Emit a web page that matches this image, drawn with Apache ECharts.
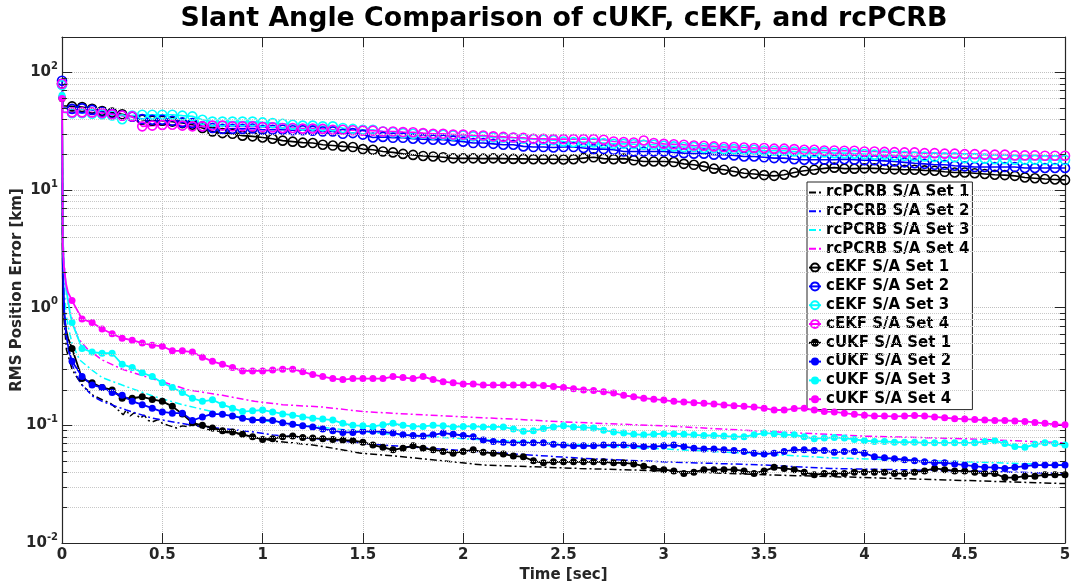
<!DOCTYPE html>
<html>
<head>
<meta charset="utf-8">
<script src="https://cdn.jsdelivr.net/npm/echarts@6/dist/echarts.min.js"></script>
<style>
  html, body { margin: 0; padding: 0; background: #ffffff; }
  #chart { width: 1073px; height: 586px; }
</style>
</head>
<body>
<div id="chart"></div>
<script>
// ---- sample grid of the filter runs (one marker per sample) ----
const sampleTimes = [
  0.05, 0.1, 0.15, 0.2, 0.25, 0.3, 0.35, 0.4, 0.45, 0.5,
  0.55, 0.6, 0.65, 0.7, 0.75, 0.8, 0.85, 0.9, 0.95, 1,
  1.05, 1.1, 1.15, 1.2, 1.25, 1.3, 1.35, 1.4, 1.45, 1.5,
  1.55, 1.6, 1.65, 1.7, 1.75, 1.8, 1.85, 1.9, 1.95, 2,
  2.05, 2.1, 2.15, 2.2, 2.25, 2.3, 2.35, 2.4, 2.45, 2.5,
  2.55, 2.6, 2.65, 2.7, 2.75, 2.8, 2.85, 2.9, 2.95, 3,
  3.05, 3.1, 3.15, 3.2, 3.25, 3.3, 3.35, 3.4, 3.45, 3.5,
  3.55, 3.6, 3.65, 3.7, 3.75, 3.8, 3.85, 3.9, 3.95, 4,
  4.05, 4.1, 4.15, 4.2, 4.25, 4.3, 4.35, 4.4, 4.45, 4.5,
  4.55, 4.6, 4.65, 4.7, 4.75, 4.8, 4.85, 4.9, 4.95, 5
];

// ---- cEKF: initial transient, then RMS error on the sample grid [km] ----
const ekfStartTimes = [0, 0.004];
const ekfStart1 = [80, 52];
const ekfStart2 = [85, 50];
const ekfStart3 = [78, 46];
const ekfStart4 = [80, 46];

const ekfSet1 = [
  51.4, 50.7, 49.0, 47.0, 45.5, 44.0, 42.3, 39.6, 38.8, 38.8,
  38.2, 37.1, 35.9, 33.7, 31.5, 30.5, 30.1, 29.0, 28.6, 28.0,
  27.3, 26.3, 25.8, 25.3, 25.1, 24.3, 23.9, 23.5, 23.2, 22.3,
  22.0, 21.3, 20.9, 20.3, 19.9, 19.5, 19.3, 19.0, 18.6, 18.6,
  18.6, 18.5, 18.6, 18.5, 18.4, 18.4, 18.3, 18.3, 18.3, 18.2,
  18.3, 18.7, 19.0, 18.5, 18.3, 18.5, 17.9, 17.5, 17.5, 17.5,
  17.3, 16.7, 16.4, 15.9, 15.2, 14.9, 14.4, 13.9, 13.7, 13.4,
  13.2, 13.5, 14.1, 14.6, 14.9, 15.3, 15.5, 15.2, 15.2, 15.3,
  15.3, 15.1, 15.0, 14.9, 14.9, 14.7, 14.6, 14.3, 14.1, 14.1,
  13.9, 13.7, 13.5, 13.4, 13.2, 12.8, 12.6, 12.4, 12.3, 12.2
];
const ekfSet2 = [
  49.0, 49.5, 48.0, 46.0, 44.5, 43.0, 42.0, 40.1, 39.6, 39.6,
  38.8, 37.6, 37.1, 34.8, 33.7, 33.1, 33.1, 33.1, 33.4, 32.6,
  32.6, 32.6, 32.2, 32.2, 32.0, 31.5, 31.5, 30.1, 30.5, 29.6,
  28.0, 28.3, 27.8, 27.8, 27.3, 27.1, 26.8, 26.8, 26.3, 25.8,
  25.1, 25.1, 24.7, 24.3, 24.3, 23.5, 23.2, 23.2, 23.0, 23.2,
  23.2, 22.8, 22.3, 22.3, 22.0, 21.3, 21.3, 21.3, 21.3, 21.3,
  20.9, 20.6, 20.4, 20.4, 20.0, 20.0, 19.7, 19.3, 19.3, 19.0,
  18.7, 18.7, 18.3, 18.1, 18.1, 18.1, 18.1, 18.3, 18.1, 17.9,
  17.9, 17.7, 17.5, 17.2, 16.9, 16.7, 16.4, 16.4, 16.1, 15.9,
  15.7, 15.7, 15.7, 15.7, 15.7, 15.4, 15.4, 15.4, 15.4, 15.4
];
const ekfSet3 = [
  45.0, 45.0, 44.5, 44.0, 43.0, 40.0, 43.0, 43.7, 43.7, 43.7,
  43.7, 42.9, 42.3, 39.6, 38.2, 38.2, 38.2, 38.2, 38.2, 37.6,
  37.1, 36.6, 35.9, 35.3, 35.3, 34.8, 34.8, 33.7, 33.1, 32.6,
  32.6, 31.5, 31.0, 30.5, 30.1, 30.1, 29.6, 29.6, 29.1, 29.1,
  28.6, 28.6, 28.0, 27.8, 27.8, 27.3, 27.1, 26.8, 26.5, 25.9,
  25.6, 25.6, 25.4, 25.1, 24.7, 24.7, 24.5, 24.3, 24.3, 23.8,
  23.5, 23.2, 23.2, 22.8, 22.8, 22.3, 22.3, 22.0, 22.0, 21.7,
  21.6, 21.6, 21.3, 21.0, 20.9, 20.9, 20.6, 20.6, 20.4, 20.2,
  20.0, 20.0, 19.7, 19.6, 19.3, 19.3, 19.1, 19.0, 19.0, 18.7,
  18.7, 18.5, 18.3, 18.3, 18.1, 18.1, 18.1, 18.0, 18.0, 18.0
];
const ekfSet4 = [
  45.7, 45.7, 45.7, 45.1, 44.0, 42.9, 42.3, 34.8, 35.3, 35.8,
  35.9, 35.3, 34.8, 34.8, 35.3, 35.3, 34.8, 34.8, 34.8, 34.3,
  34.1, 33.7, 33.7, 33.3, 33.3, 33.1, 32.6, 32.6, 32.2, 32.0,
  32.0, 31.5, 31.5, 31.1, 31.0, 30.5, 30.1, 30.1, 29.6, 29.6,
  29.2, 29.1, 28.6, 28.3, 28.0, 27.8, 27.3, 27.3, 27.1, 27.1,
  27.1, 27.1, 27.1, 26.8, 25.9, 25.6, 25.4, 26.4, 25.1, 24.7,
  24.5, 24.3, 23.9, 23.8, 23.5, 23.2, 23.2, 23.0, 22.8, 22.8,
  22.5, 22.5, 22.3, 22.0, 22.0, 21.7, 21.7, 21.6, 21.6, 21.3,
  21.3, 21.1, 21.0, 20.9, 20.9, 20.6, 20.6, 20.4, 20.4, 20.2,
  20.2, 20.0, 20.0, 20.0, 19.7, 19.7, 19.7, 19.6, 19.6, 19.6
];

// ---- cUKF: initial transient, then RMS error on the sample grid [km] ----
const ukfStartTimes = [0, 0.004, 0.01, 0.02, 0.03, 0.04];
const ukfStart1 = [60, 1.8, 0.9, 0.65, 0.55, 0.5];
const ukfStart2 = [62, 2.5, 1.0, 0.6, 0.48, 0.4];
const ukfStart3 = [64, 4.0, 2.2, 1.5, 1.15, 0.9];
const ukfStart4 = [60, 3.5, 2.2, 1.6, 1.35, 1.25];

const ukfSet1 = [
  0.45, 0.25, 0.23, 0.21, 0.20, 0.17, 0.17, 0.175, 0.166, 0.16,
  0.145, 0.125, 0.105, 0.10, 0.095, 0.09, 0.088, 0.084, 0.08, 0.076,
  0.077, 0.08, 0.081, 0.079, 0.078, 0.077, 0.076, 0.075, 0.074, 0.072,
  0.068, 0.065, 0.062, 0.064, 0.067, 0.064, 0.062, 0.06, 0.058, 0.06,
  0.062, 0.059, 0.058, 0.057, 0.055, 0.054, 0.05, 0.048, 0.049, 0.049,
  0.049, 0.049, 0.049, 0.049, 0.048, 0.048, 0.047, 0.045, 0.043, 0.042,
  0.041, 0.039, 0.04, 0.042, 0.042, 0.042, 0.042, 0.041, 0.039, 0.041,
  0.044, 0.043, 0.042, 0.04, 0.038, 0.039, 0.039, 0.039, 0.04, 0.04,
  0.04, 0.04, 0.039, 0.039, 0.04, 0.041, 0.043, 0.042, 0.041, 0.041,
  0.04, 0.039, 0.039, 0.036, 0.036, 0.037, 0.037, 0.038, 0.038, 0.038
];
const ukfSet2 = [
  0.35, 0.26, 0.22, 0.21, 0.19, 0.18, 0.16, 0.15, 0.14, 0.13,
  0.127, 0.127, 0.11, 0.118, 0.125, 0.124, 0.12, 0.115, 0.111, 0.111,
  0.11, 0.105, 0.102, 0.099, 0.097, 0.093, 0.09, 0.087, 0.087, 0.089,
  0.089, 0.088, 0.086, 0.083, 0.082, 0.081, 0.083, 0.086, 0.084, 0.082,
  0.08, 0.075, 0.073, 0.072, 0.071, 0.071, 0.071, 0.071, 0.069, 0.068,
  0.067, 0.067, 0.067, 0.068, 0.068, 0.068, 0.067, 0.066, 0.066, 0.067,
  0.068, 0.066, 0.064, 0.063, 0.063, 0.062, 0.061, 0.06, 0.058, 0.057,
  0.058, 0.06, 0.062, 0.062, 0.061, 0.061, 0.059, 0.06, 0.06, 0.058,
  0.054, 0.053, 0.052, 0.051, 0.05, 0.049, 0.048, 0.048, 0.047, 0.046,
  0.045, 0.044, 0.044, 0.043, 0.044, 0.045, 0.046, 0.046, 0.046, 0.046
];
const ukfSet3 = [
  0.75, 0.45, 0.42, 0.41, 0.41, 0.33, 0.31, 0.28, 0.26, 0.23,
  0.21, 0.19, 0.17, 0.16, 0.165, 0.15, 0.14, 0.131, 0.133, 0.135,
  0.13, 0.125, 0.122, 0.118, 0.115, 0.113, 0.111, 0.104, 0.1, 0.099,
  0.098, 0.101, 0.104, 0.1, 0.098, 0.098, 0.1, 0.099, 0.097, 0.098,
  0.098, 0.097, 0.097, 0.097, 0.093, 0.089, 0.09, 0.094, 0.097, 0.099,
  0.097, 0.096, 0.095, 0.091, 0.088, 0.086, 0.084, 0.083, 0.084, 0.085,
  0.085, 0.084, 0.083, 0.082, 0.082, 0.081, 0.08, 0.08, 0.083, 0.086,
  0.085, 0.083, 0.083, 0.08, 0.077, 0.078, 0.079, 0.078, 0.076, 0.074,
  0.073, 0.073, 0.072, 0.072, 0.072, 0.071, 0.071, 0.071, 0.071, 0.071,
  0.071, 0.073, 0.074, 0.07, 0.066, 0.065, 0.069, 0.071, 0.07, 0.068
];
const ukfSet4 = [
  1.15, 0.8, 0.75, 0.66, 0.6, 0.55, 0.53, 0.5, 0.48, 0.47,
  0.43, 0.43, 0.42, 0.38, 0.35, 0.33, 0.31, 0.29, 0.29, 0.29,
  0.295, 0.30, 0.30, 0.285, 0.27, 0.26, 0.25, 0.245, 0.25, 0.25,
  0.25, 0.25, 0.26, 0.255, 0.25, 0.26, 0.245, 0.235, 0.23, 0.225,
  0.225, 0.22, 0.22, 0.22, 0.22, 0.22, 0.22, 0.218, 0.214, 0.21,
  0.205, 0.2, 0.198, 0.193, 0.188, 0.18, 0.175, 0.17, 0.167, 0.164,
  0.16, 0.158, 0.156, 0.154, 0.152, 0.149, 0.147, 0.145, 0.143, 0.14,
  0.135, 0.135, 0.139, 0.14, 0.135, 0.131, 0.13, 0.127, 0.124, 0.122,
  0.12, 0.12, 0.119, 0.12, 0.121, 0.12, 0.118, 0.116, 0.114, 0.113,
  0.112, 0.111, 0.11, 0.11, 0.109, 0.108, 0.106, 0.104, 0.102, 0.101
];

// ---- rcPCRB bounds [km] ----
const crbTimes1 = [
  0, 0.004, 0.01, 0.022, 0.05, 0.072, 0.1, 0.155, 0.2, 0.24,
  0.27, 0.29, 0.305, 0.32, 0.34, 0.36, 0.39, 0.41, 0.43, 0.45,
  0.48, 0.5, 0.53, 0.57, 0.6, 0.63, 0.655, 0.68, 0.71, 0.74,
  0.78, 0.82, 0.86, 0.9, 0.95, 1.0, 1.07, 1.15, 1.25, 1.35,
  1.49, 1.6, 1.8, 2.1, 2.58, 3.0, 3.5, 3.83, 4.5, 5.0
];
const crbSet1 = [
  50, 1.5, 0.8, 0.44, 0.3, 0.26, 0.22, 0.18, 0.165, 0.155,
  0.14, 0.13, 0.123, 0.135, 0.12, 0.128, 0.115, 0.122, 0.11, 0.107,
  0.112, 0.104, 0.1, 0.095, 0.099, 0.097, 0.104, 0.098, 0.094, 0.091,
  0.089, 0.087, 0.086, 0.083, 0.08, 0.077, 0.073, 0.071, 0.068, 0.064,
  0.058, 0.056, 0.052, 0.046, 0.043, 0.041, 0.038, 0.0367, 0.034, 0.032
];
const crbTimes2 = [0, 0.004, 0.01, 0.02, 0.03, 0.05, 0.08, 0.1, 0.155, 0.2, 0.32, 0.45, 0.65, 0.94, 1.05, 1.3, 1.6, 2.0, 2.58, 3.0, 3.5, 3.83, 4.5, 5.0];
const crbSet2 = [50, 2, 1.0, 0.6, 0.45, 0.33, 0.25, 0.22, 0.176, 0.16, 0.135, 0.115, 0.1, 0.0885, 0.083, 0.076, 0.068, 0.061, 0.0526, 0.049, 0.046, 0.043, 0.041, 0.039];
const crbTimes3 = [0, 0.004, 0.01, 0.02, 0.03, 0.05, 0.088, 0.155, 0.2, 0.3, 0.46, 0.6, 0.8, 0.96, 1.2, 1.33, 1.6, 2.0, 2.55, 3.0, 3.5, 3.83, 4.5, 5.0];
const crbSet3 = [50, 3, 1.6, 0.9, 0.7, 0.5, 0.36, 0.29, 0.255, 0.22, 0.176, 0.15, 0.125, 0.112, 0.1, 0.095, 0.085, 0.077, 0.069, 0.063, 0.057, 0.053, 0.049, 0.046];
const crbTimes4 = [0, 0.004, 0.01, 0.02, 0.03, 0.05, 0.08, 0.1, 0.13, 0.2, 0.3, 0.4, 0.5, 0.63, 0.8, 0.96, 1.1, 1.3, 1.5, 1.75, 2.0, 2.25, 2.5, 3.0, 3.5, 4.0, 4.5, 5.0];
const crbSet4 = [50, 4, 2.5, 1.5, 1.1, 0.8, 0.55, 0.5, 0.44, 0.36, 0.30, 0.265, 0.235, 0.20, 0.18, 0.16, 0.15, 0.143, 0.131, 0.124, 0.118, 0.113, 0.107, 0.099, 0.089, 0.081, 0.077, 0.071];

// ---- axis ticks ----
const timeTicks = [0, 0.5, 1, 1.5, 2, 2.5, 3, 3.5, 4, 4.5, 5];
const minorLevels = [
  0.02, 0.03, 0.04, 0.05, 0.06, 0.07, 0.08, 0.09,
  0.2, 0.3, 0.4, 0.5, 0.6, 0.7, 0.8, 0.9,
  2, 3, 4, 5, 6, 7, 8, 9,
  20, 30, 40, 50, 60, 70, 80, 90
];

const setColors = ['#000000', '#0000ff', '#00ffff', '#ff00ff'];
const FONT = 'DejaVu Sans';
const INK = '#262626';
const CLEAR = 'rgba(255,255,255,0)';

function pairs(times, values) {
  return times.map((t, i) => [t, values[i]]);
}
// first sample carries a marker, the rest of the start-up transient does not
function withStart(startTimes, startValues, values) {
  const head = startTimes.map((t, i) =>
    i === 0 ? { value: [t, startValues[i]] } : { value: [t, startValues[i]], symbol: 'none' });
  const body = sampleTimes.map((t, i) => [t, values[i]]);
  return head.concat(body);
}

const crbData = [pairs(crbTimes1, crbSet1), pairs(crbTimes2, crbSet2), pairs(crbTimes3, crbSet3), pairs(crbTimes4, crbSet4)];
const ekfData = [
  withStart(ekfStartTimes, ekfStart1, ekfSet1), withStart(ekfStartTimes, ekfStart2, ekfSet2),
  withStart(ekfStartTimes, ekfStart3, ekfSet3), withStart(ekfStartTimes, ekfStart4, ekfSet4)
];
const ukfData = [
  withStart(ukfStartTimes, ukfStart1, ukfSet1), withStart(ukfStartTimes, ukfStart2, ukfSet2),
  withStart(ukfStartTimes, ukfStart3, ukfSet3), withStart(ukfStartTimes, ukfStart4, ukfSet4)
];

const series = [];
const legendItems = [];

// minor grid lines and minor ticks of the logarithmic axis
series.push({
  type: 'line', data: [], silent: true, z: 1,
  markLine: {
    silent: true, symbol: ['none', 'none'], label: { show: false }, animation: false,
    lineStyle: { type: 'dotted', color: '#c8c8c8', width: 1 },
    emphasis: { disabled: true },
    data: minorLevels.map(v => ({ yAxis: v }))
  }
});
series.push({
  type: 'line', data: [], silent: true, z: 5,
  markLine: {
    silent: true, symbol: ['none', 'none'], label: { show: false }, animation: false,
    lineStyle: { type: 'solid', color: INK, width: 1 },
    emphasis: { disabled: true },
    data: minorLevels.map(v => [{ coord: [0, v] }, { coord: [0.026, v] }])
      .concat(minorLevels.map(v => [{ coord: [4.974, v] }, { coord: [5, v] }]))
  }
});

for (let k = 0; k < 4; k++) {
  const name = 'rcPCRB S/A Set ' + (k + 1);
  legendItems.push({ name, itemStyle: { color: CLEAR, borderWidth: 0, opacity: 0 } });
  series.push({
    name, type: 'line', data: crbData[k], z: 2,
    symbol: 'none', showSymbol: false,
    color: setColors[k],
    itemStyle: { color: CLEAR, borderWidth: 0 },
    lineStyle: { color: setColors[k], width: 1.5, type: [7, 3, 2, 3] }
  });
}
for (let k = 0; k < 4; k++) {
  const name = 'cEKF S/A Set ' + (k + 1);
  legendItems.push({ name });
  series.push({
    name, type: 'line', data: ekfData[k], z: 3,
    symbol: 'circle', symbolSize: 9,
    color: setColors[k],
    itemStyle: { color: CLEAR, borderColor: setColors[k], borderWidth: 1.6 },
    lineStyle: { color: setColors[k], width: 1.6 }
  });
}
for (let k = 0; k < 4; k++) {
  const name = 'cUKF S/A Set ' + (k + 1);
  legendItems.push({ name });
  series.push({
    name, type: 'line', data: ukfData[k], z: 4,
    symbol: 'circle', symbolSize: 7,
    color: setColors[k],
    itemStyle: { color: setColors[k], borderWidth: 0 },
    lineStyle: { color: setColors[k], width: 1.8 }
  });
}

const boldText = { fontFamily: FONT, fontWeight: 'bold', color: INK };

function decadeLabel(v) {
  const lg = Math.log10(v);
  const e = Math.round(lg);
  if (Math.abs(lg - e) > 1e-6) return '';
  return '{b|10}{s|' + e + '}';
}

const xBase = {
  type: 'value', min: 0, max: 5, interval: 0.5,
  axisLine: { show: true, onZero: false, lineStyle: { color: INK, width: 1.2 } },
  axisTick: { show: true, inside: true, length: 10, lineStyle: { color: INK, width: 1 } }
};
const yBase = {
  type: 'log', logBase: 10, min: 0.01, max: 200,
  axisLine: { show: true, onZero: false, lineStyle: { color: INK, width: 1.2 } },
  axisTick: { show: true, inside: true, length: 10, lineStyle: { color: INK, width: 1 } }
};

const option = {
  animation: false,
  backgroundColor: '#ffffff',
  title: {
    text: 'Slant Angle Comparison of cUKF, cEKF, and rcPCRB',
    left: 559, top: 1, textAlign: 'center',
    textStyle: { fontFamily: FONT, fontWeight: 'bold', fontSize: 26.8, color: '#000000' }
  },
  grid: { left: 62, right: 8, top: 37, bottom: 43, containLabel: false, outerBoundsMode: 'none' },
  legend: {
    data: legendItems, orient: 'vertical', left: 807, top: 182,
    selectedMode: false,
    padding: [2, 3, 2, 1], itemGap: 2, itemWidth: 12, itemHeight: 10,
    backgroundColor: '#ffffff', borderColor: INK, borderWidth: 1, borderRadius: 0,
    textStyle: { fontFamily: FONT, fontWeight: 'bold', fontSize: 15, color: '#000000', lineHeight: 16.8 }
  },
  xAxis: [
    Object.assign({}, xBase, {
      position: 'bottom',
      name: 'Time [sec]', nameLocation: 'middle', nameGap: 25, nameMoveOverlap: false,
      nameTextStyle: Object.assign({ fontSize: 15 }, boldText),
      axisLabel: Object.assign({ fontSize: 15, margin: 5,
        formatter: v => (timeTicks.indexOf(v) >= 0 ? String(v) : '') }, boldText),
      splitLine: { show: true, lineStyle: { type: 'dotted', color: '#c0c0c0', width: 1 } }
    }),
    Object.assign({}, xBase, {
      position: 'top', axisLabel: { show: false }, splitLine: { show: false }
    })
  ],
  yAxis: [
    Object.assign({}, yBase, {
      position: 'left',
      name: 'RMS Position Error [km]', nameLocation: 'middle', nameGap: 37, nameMoveOverlap: false,
      nameTextStyle: Object.assign({ fontSize: 15 }, boldText),
      axisLabel: {
        margin: 4, formatter: decadeLabel,
        rich: {
          b: Object.assign({ fontSize: 15, lineHeight: 22 }, boldText),
          s: Object.assign({ fontSize: 10, lineHeight: 12, verticalAlign: 'top' }, boldText)
        }
      },
      splitLine: { show: true, lineStyle: { type: 'dotted', color: '#c0c0c0', width: 1 } }
    }),
    Object.assign({}, yBase, {
      position: 'right', axisLabel: { show: false }, splitLine: { show: false }
    })
  ],
  series
};

const chart = echarts.init(document.getElementById('chart'), null, { renderer: 'canvas' });
chart.setOption(option);
</script>
</body>
</html>
